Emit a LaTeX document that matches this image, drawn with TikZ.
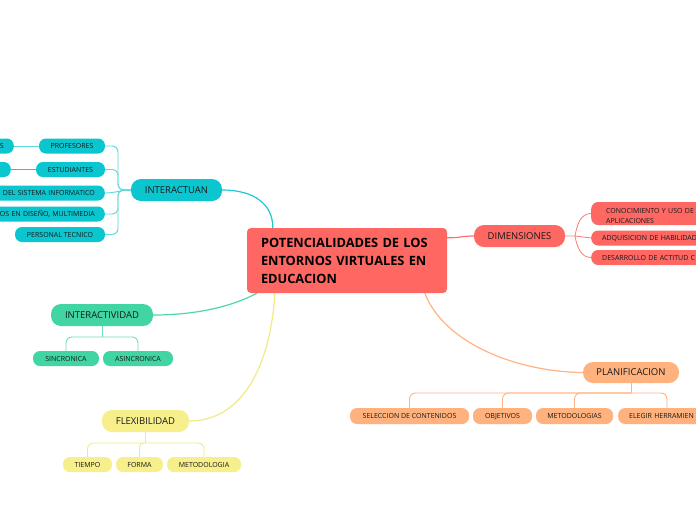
\documentclass[tikz,border=0pt]{standalone}
\usepackage{fontspec}
\setmainfont{Open Sans}
\usetikzlibrary{calc}
\definecolor{redc}{HTML}{FF6763}
\definecolor{tealc}{HTML}{0CC6CF}
\definecolor{greenc}{HTML}{40D5A2}
\definecolor{yellowc}{HTML}{F6EF8C}
\definecolor{orangec}{HTML}{FFB27E}
\definecolor{tealline}{HTML}{1CCAD3}
\definecolor{tealtwig}{HTML}{5CD8DE}
\definecolor{redline}{HTML}{FF726E}
\definecolor{redtwig}{HTML}{FF8581}
\definecolor{greenline}{HTML}{4DD8A8}
\definecolor{greentwig}{HTML}{74DFBB}
\definecolor{yellowline}{HTML}{F2EB84}
\definecolor{orangeline}{HTML}{FFB383}
\definecolor{txt}{HTML}{16191B}
\pgfdeclarelayer{bg}
\pgfsetlayers{bg,main}
\tikzset{
  base/.style={inner sep=0pt, text=txt},
  leaf/.style={base, rounded corners=7pt, minimum height=15pt, font=\fontsize{7}{9}\selectfont, text height=5pt, text depth=0pt},
  topic/.style={base, rounded corners=10pt, minimum height=22pt, font=\fontsize{9.5}{11}\selectfont, text height=6.8pt, text depth=0pt},
  cutleft/.style={anchor=east, text width=160pt, align=right, inner xsep=10pt},
  cutright/.style={anchor=west, text width=160pt, align=left, inner xsep=11pt},
  central/.style={fill=redc, rounded corners=4pt, minimum width=200pt, minimum height=65pt, text width=172pt, align=left, inner xsep=14pt, inner ysep=0pt, font=\bfseries\fontsize{12.8}{18}\selectfont, text=black},
  link/.style={line width=1.2pt},
  twig/.style={line width=0.9pt},
  elbow/.style={rounded corners=6pt},
}
\begin{document}
\begin{tikzpicture}[x=1pt,y=-1pt]
\useasboundingbox (0,0) rectangle (696,520);
\clip (0,0) rectangle (696,520);

% central
\node[central] (c) at (347,260.5) {POTENCIALIDADES DE LOS\\ENTORNOS VIRTUALES EN\\EDUCACION};

% interactuan
\node[topic, fill=tealc, minimum width=91pt] (inter) at (176.5,190) {INTERACTUAN};
\node[leaf, fill=tealc, minimum width=66pt] (prof) at (72,146) {PROFESORES};
\node[leaf, fill=tealc, minimum width=69pt] (est) at (70.5,169.5) {ESTUDIANTES};
\node[leaf, fill=tealc, cutleft] (sis) at (105,193) {DEL SISTEMA INFORMATICO};
\node[leaf, fill=tealc, cutleft] (dis) at (105,214) {OS EN DISEÑO, MULTIMEDIA};
\node[leaf, fill=tealc, minimum width=90pt] (per) at (60,234.5) {PERSONAL TECNICO};
\node[leaf, fill=tealc, cutleft] (profs) at (14,146) {S};
\node[leaf, fill=tealc, cutleft] (ests) at (11,169.5) {};

% dimensiones
\node[topic, fill=redc, minimum width=91pt] (dim) at (519.5,236) {DIMENSIONES};
\node[leaf, fill=redc, cutright, inner xsep=15pt, minimum height=23pt, text height={}, font=\fontsize{7}{9.5}\selectfont] (con) at (591,213.5) {\raisebox{4.75pt}{\parbox[t]{160pt}{CONOCIMIENTO Y USO DE\\APLICACIONES}}};
\node[leaf, fill=redc, cutright] (adq) at (591,238) {ADQUISICION DE HABILIDAD};
\node[leaf, fill=redc, cutright] (des) at (591,257.5) {DESARROLLO DE ACTITUD C};

% interactividad
\node[topic, fill=greenc, minimum width=102pt] (inact) at (102,315) {INTERACTIVIDAD};
\node[leaf, fill=greenc, minimum width=66pt] (sin) at (66,358.5) {SINCRONICA};
\node[leaf, fill=greenc, minimum width=70pt] (asin) at (138,358.5) {ASINCRONICA};

% flexibilidad
\node[topic, fill=yellowc, minimum width=87pt] (flex) at (145.5,421) {FLEXIBILIDAD};
\node[leaf, fill=yellowc, minimum width=49pt] (tiem) at (87.5,464.5) {TIEMPO};
\node[leaf, fill=yellowc, minimum width=47pt] (form) at (139.5,464.5) {FORMA};
\node[leaf, fill=yellowc, minimum width=74pt] (metf) at (204,464.5) {METODOLOGIA};

% planificacion
\node[topic, fill=orangec, minimum width=96pt, minimum height=21pt] (plan) at (631,372.5) {PLANIFICACION};
\node[leaf, fill=orangec, minimum width=119pt, minimum height=16pt] (sel) at (409.5,416) {SELECCION DE CONTENIDOS};
\node[leaf, fill=orangec, minimum width=59pt, minimum height=16pt] (obj) at (502.5,416) {OBJETIVOS};
\node[leaf, fill=orangec, minimum width=77pt, minimum height=16pt] (metp) at (574.5,416) {METODOLOGIAS};
\node[leaf, fill=orangec, cutright, minimum height=16pt] (eleg) at (618,416) {ELEGIR HERRAMIEN};
\coordinate (elegtop) at (667,408);

\begin{pgfonlayer}{bg}
\fill[white] (0,0) rectangle (696,520);
% main links
\draw[link, tealline] (inter.east) .. controls (255,190) and (273,205) .. ($(c.north west)+(26,0)$);
\draw[link, redline] ($(c.north east)+(0,10)$) .. controls (460,238) and (462,236) .. (dim.west);
\draw[link, greenline] (inact.east) .. controls (200,315) and (235,305) .. ($(c.south west)+(10,0)$);
\draw[link, yellowline] (flex.east) .. controls (250,421) and (272,350) .. ($(c.south west)+(28,0)$);
\draw[link, orangeline] ($(c.south west)+(178,0)$) .. controls (445,345) and (520,372) .. (plan.west);

% teal twigs
\foreach \n in {prof,est,dis,per}
  \draw[twig, tealtwig, elbow] (inter.west) -- (118,190) |- (\n.east);
\draw[twig, tealtwig] (inter.west) to[out=180,in=0] (sis.east);
\draw[twig, tealtwig] (prof.west) -- (profs.east);
\draw[twig, tealline] (est.west) -- (ests.east);

% red twigs
\draw[twig, redtwig] (dim.east) -- (575,236) to[out=80,in=180] (con.west);
\draw[twig, redtwig] (575,236) -- (adq.west);
\draw[twig, redtwig] (575,236) to[out=-80,in=180] (des.west);

% green twigs
\draw[twig, greentwig] (inact.south) -- (102,337);
\draw[twig, greentwig, elbow] (102,337) -| (sin.north);
\draw[twig, greentwig, elbow] (102,337) -| (asin.north);

% yellow twigs
\draw[twig, yellowline] (flex.south) -- (145.5,443);
\draw[twig, yellowline, elbow] (145.5,443) -| (tiem.north);
\draw[twig, yellowline, rounded corners=4pt] (145.5,443) -| (form.north);
\draw[twig, yellowline, elbow] (145.5,443) -| (metf.north);

% orange twigs
\draw[twig, orangeline] (plan.south) -- (631,393);
\draw[twig, orangeline, elbow] (631,393) -| (sel.north);
\draw[twig, orangeline, elbow] (631,393) -| (obj.north);
\draw[twig, orangeline, elbow] (631,393) -| (metp.north);
\draw[twig, orangeline, elbow] (631,393) -| (elegtop);
\end{pgfonlayer}
\end{tikzpicture}
\end{document}
